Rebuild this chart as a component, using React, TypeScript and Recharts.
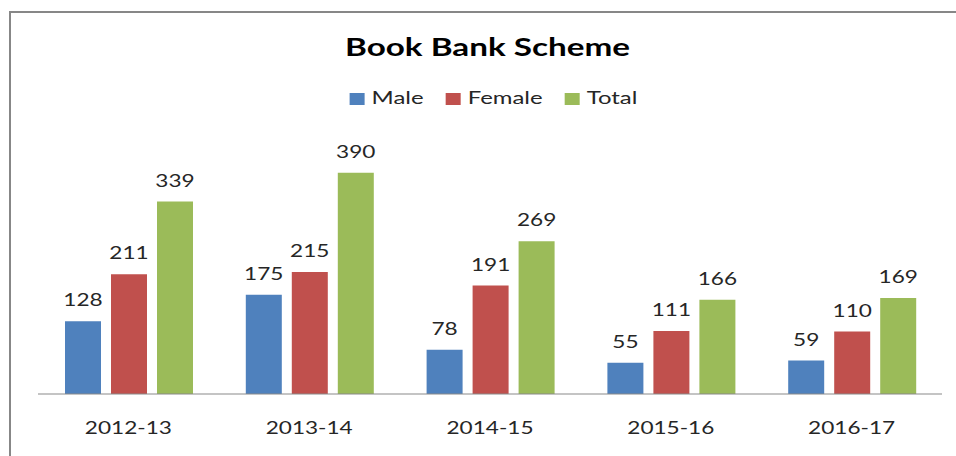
import React from 'react';
import { BarChart, Bar, XAxis, YAxis, LabelList, Legend } from 'recharts';

const categories = ['2012-13', '2013-14', '2014-15', '2015-16', '2016-17'];
const maleValues = [128, 175, 78, 55, 59];
const femaleValues = [211, 215, 191, 111, 110];
const totalValues = [339, 390, 269, 166, 169];
const seriesKeys = ['male', 'female', 'total'];
const seriesNames = ['Male', 'Female', 'Total'];
const seriesColors = ['#4F81BD', '#C0504D', '#9BBB59'];
const chartTitle = 'Book Bank Scheme';

const data = categories.map((c, i) => ({
  name: c,
  male: maleValues[i],
  female: femaleValues[i],
  total: totalValues[i],
}));

const FONT = 'Lato, "Open Sans", sans-serif';
const SX = 1.33;

let ctx: CanvasRenderingContext2D | null = null;
function measure(text: string, font: string): number {
  if (!ctx) {
    const c = document.createElement('canvas');
    ctx = c.getContext('2d');
  }
  if (!ctx) return text.length * 9;
  ctx.font = font;
  return ctx.measureText(text).width;
}

const StretchText = ({ x, y, size, weight, fill, anchor, children }: any) => (
  <text
    transform={`translate(${x},${y}) scale(${SX},1)`}
    textAnchor={anchor || 'middle'}
    fontFamily={FONT}
    fontSize={size}
    fontWeight={weight || 'normal'}
    fill={fill || '#262626'}
  >
    {children}
  </text>
);

const Tick = (props: any) => {
  const { x, y, payload } = props;
  return (
    <StretchText x={x} y={y + 40} size={17}>
      {payload.value}
    </StretchText>
  );
};

const ValueLabel = (props: any) => {
  const { x, y, width, value } = props;
  return (
    <StretchText x={x + width / 2} y={y - 15} size={17}>
      {value}
    </StretchText>
  );
};

const renderLegend = (props: any) => {
  const payload = [...(props.payload || [])].sort(
    (a: any, b: any) => seriesNames.indexOf(String(a.value)) - seriesNames.indexOf(String(b.value))
  );
  const fontSize = 18;
  const sq = 15;
  const gapIn = 7;
  const gapOut = 22;
  const items = payload.map((p: any) => {
    const tw = measure(String(p.value), `${fontSize}px Lato`) * SX;
    return { label: String(p.value), color: p.color, tw };
  });
  const total =
    items.reduce((s: number, it: any) => s + sq + gapIn + it.tw, 0) + gapOut * Math.max(0, items.length - 1);
  let cx = 493.5 - total / 2;
  const els: any[] = [];
  items.forEach((it: any, i: number) => {
    els.push(<rect key={`r${i}`} x={cx} y={93} width={sq} height={12} fill={it.color} />);
    els.push(
      <StretchText key={`t${i}`} x={cx + sq + gapIn} y={104} size={fontSize} anchor="start" fill="#262626">
        {it.label}
      </StretchText>
    );
    cx += sq + gapIn + it.tw + gapOut;
  });
  return (
    <div style={{ position: 'relative', height: 0 }}>
      <svg
        width={956}
        height={130}
        style={{ position: 'absolute', left: 0, top: 0, overflow: 'visible' }}
      >
        {els}
      </svg>
    </div>
  );
};

export default function App() {
  return (
    <div
      style={{
        position: 'absolute',
        left: 0,
        top: 0,
        width: 956,
        height: 456,
        overflow: 'hidden',
        background: '#ffffff',
      }}
    >
      <div
        style={{
          position: 'absolute',
          left: 9,
          top: 11,
          width: 2000,
          height: 2000,
          border: '2px solid #878787',
        }}
      />
      <svg width={956} height={80} style={{ position: 'absolute', left: 0, top: 0 }}>
        <StretchText x={487.5} y={56} size={25} weight="bold" fill="#000000">
          {chartTitle}
        </StretchText>
      </svg>
      <div style={{ position: 'absolute', left: 0, top: 0 }}>
        <BarChart
          width={956}
          height={456}
          data={data}
          margin={{ top: 167, right: 14, bottom: 0, left: 38 }}
          barCategoryGap={27}
          barGap={10}
        >
          <XAxis
            dataKey="name"
            height={62}
            tickLine={false}
            tickSize={0}
            tickMargin={0}
            axisLine={{ stroke: '#898989', strokeWidth: 1.2 }}
            tick={<Tick />}
            interval={0}
          />
          <YAxis hide domain={[0, 400]} />
          <Legend
            verticalAlign="top"
            wrapperStyle={{ left: 0, top: 0, width: 956, height: 0 }}
            content={renderLegend}
          />
          {seriesKeys.map((k, i) => (
            <Bar
              key={k}
              dataKey={k}
              name={seriesNames[i]}
              fill={seriesColors[i]}
              isAnimationActive={false}
            >
              <LabelList dataKey={k} content={<ValueLabel />} />
            </Bar>
          ))}
        </BarChart>
      </div>
    </div>
  );
}
